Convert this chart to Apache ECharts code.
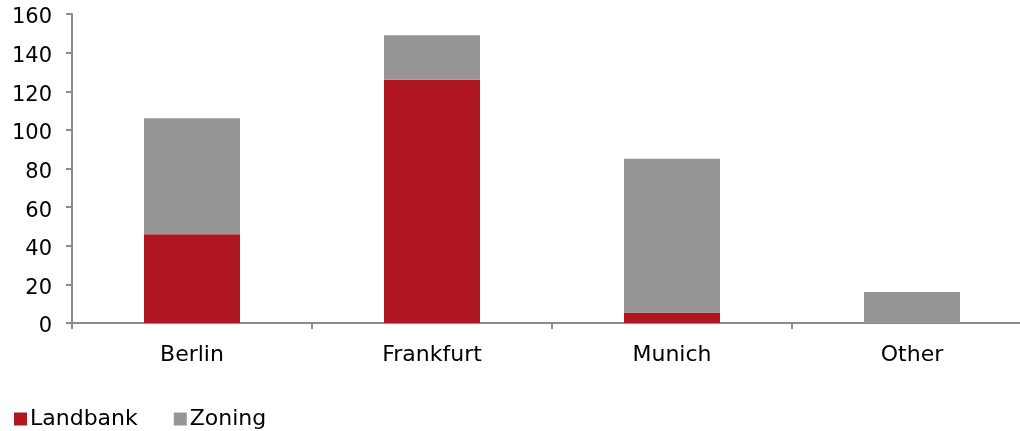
<!DOCTYPE html>
<html><head><meta charset="utf-8">
<script src="https://cdn.jsdelivr.net/npm/echarts@6/dist/echarts.min.js"></script>
<style>html,body{margin:0;padding:0;background:#fff}#c{width:1020px;height:431px}</style>
</head><body><div id="c"></div>
<script>
const categories = ["Berlin", "Frankfurt", "Munich", "Other"];
const landbank = [46, 126, 5.5, 0];
const zoning = [60, 23, 79.5, 16];
const seriesNames = ["Landbank", "Zoning"];

const chart = echarts.init(document.getElementById('c'));
const font = "DejaVu Sans";
chart.setOption({
  animation: false,
  textStyle: {fontFamily: font},
  grid: {left: 72, right: -12, top: 14, bottom: 108, containLabel: false, outerBoundsMode: 'none'},
  legend: {
    left: 14, top: 408, itemWidth: 13, itemHeight: 13, itemGap: 36, padding: 0,
    icon: 'rect',
    textStyle: {fontSize: 22, color: '#000', fontFamily: font, padding: [0,0,0,-2]},
    data: seriesNames
  },
  xAxis: {
    type: 'category', data: categories,
    axisLine: {lineStyle: {color: '#8c8c8c', width: 2}},
    axisTick: {show: true, alignWithLabel: false, length: 6, lineStyle: {color: '#8c8c8c', width: 2}},
    axisLabel: {fontSize: 22, color: '#000', margin: 21, fontFamily: font}
  },
  yAxis: {
    type: 'value', min: 0, max: 160, interval: 20,
    axisLine: {show: true, lineStyle: {color: '#8c8c8c', width: 2}},
    axisTick: {show: true, length: 6, lineStyle: {color: '#8c8c8c', width: 2}},
    splitLine: {show: false},
    axisLabel: {
      color: '#000', margin: 20, fontFamily: font,
      formatter: '{a|{value}}',
      rich: {a: {fontSize: 21, color: '#000', fontFamily: font, padding: [8, 0, 0, 0]}}
    }
  },
  series: [
    {name: seriesNames[0], type: 'bar', stack: 't', data: landbank, barWidth: 96,
     itemStyle: {color: '#B01620'}},
    {name: seriesNames[1], type: 'bar', stack: 't', data: zoning, barWidth: 96,
     itemStyle: {color: '#969696'}}
  ]
});
</script></body></html>
